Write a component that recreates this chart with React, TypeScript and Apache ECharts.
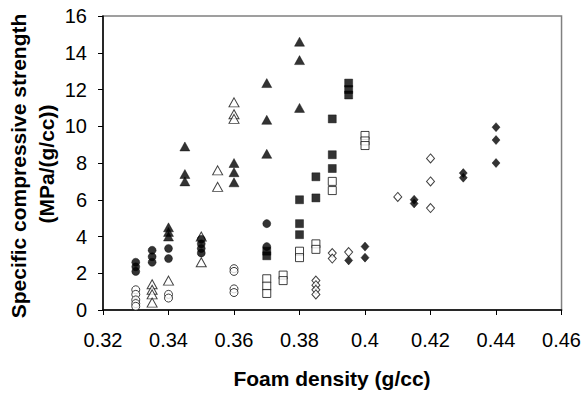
import React, { useEffect, useRef } from "react";
import * as echarts from "echarts";

// Foam density (g/cc) vs specific compressive strength (MPa/(g/cc))
const filledCircles: number[][] = [
  [0.33, 2.6], [0.33, 2.35], [0.33, 2.1],
  [0.335, 3.25], [0.335, 2.9], [0.335, 2.6],
  [0.34, 3.35], [0.34, 2.8],
  [0.35, 3.85], [0.35, 3.6], [0.35, 3.35], [0.35, 3.1],
  [0.37, 4.7], [0.37, 3.45],
];
const openCircles: number[][] = [
  [0.33, 1.1], [0.33, 0.85], [0.33, 0.55], [0.33, 0.35], [0.33, 0.2],
  [0.34, 0.85], [0.34, 0.65],
  [0.36, 2.25], [0.36, 2.1], [0.36, 1.15], [0.36, 0.95],
];
const filledTriangles: number[][] = [
  [0.34, 4.5], [0.34, 4.25], [0.34, 4.0],
  [0.345, 8.9], [0.345, 7.4], [0.345, 7.0],
  [0.36, 8.0], [0.36, 7.5], [0.36, 6.95],
  [0.37, 12.35], [0.37, 10.35], [0.37, 8.5],
  [0.38, 14.6], [0.38, 13.6], [0.38, 11.0],
];
const openTriangles: number[][] = [
  [0.335, 1.4], [0.335, 1.1], [0.335, 0.85], [0.335, 0.4],
  [0.34, 1.6],
  [0.35, 4.0], [0.35, 2.6],
  [0.355, 7.6], [0.355, 6.7],
  [0.36, 11.3], [0.36, 10.65], [0.36, 10.4],
];
const filledSquares: number[][] = [
  [0.37, 3.2], [0.37, 2.95],
  [0.38, 6.0], [0.38, 4.7], [0.38, 4.1],
  [0.385, 7.25], [0.385, 6.1],
  [0.39, 10.4], [0.39, 8.45], [0.39, 7.7],
  [0.395, 12.35], [0.395, 12.0], [0.395, 11.7],
];
const openSquares: number[][] = [
  [0.37, 1.7], [0.37, 1.3], [0.37, 0.9],
  [0.375, 1.9], [0.375, 1.6],
  [0.38, 3.2], [0.38, 2.85],
  [0.385, 3.6], [0.385, 3.3],
  [0.39, 7.0], [0.39, 6.5],
  [0.4, 9.5], [0.4, 9.2], [0.4, 8.95],
];
const openDiamonds: number[][] = [
  [0.385, 1.6], [0.385, 1.35], [0.385, 1.1], [0.385, 0.85],
  [0.39, 3.1], [0.39, 2.8],
  [0.395, 3.15],
  [0.41, 6.15],
  [0.42, 8.25], [0.42, 7.0], [0.42, 5.55],
];
const filledDiamonds: number[][] = [
  [0.395, 2.7],
  [0.4, 3.45], [0.4, 2.85],
  [0.415, 6.0], [0.415, 5.8],
  [0.43, 7.45], [0.43, 7.2],
  [0.44, 9.95], [0.44, 9.25], [0.44, 8.0],
];

const xTitle = "Foam density (g/cc)";
const yTitleLine1 = "Specific compressive strength";
const yTitleLine2 = "(MPa/(g/cc))";

const FONT = "'Liberation Sans', Arial, sans-serif";

function mk(name: string, data: number[][], symbol: string, size: any, filled: boolean, z: number) {
  return {
    name,
    type: "scatter",
    data,
    symbol,
    symbolSize: size,
    z,
    itemStyle: filled
      ? { color: "#000", borderColor: "#000", borderWidth: 0.5 }
      : { color: "#fff", borderColor: "#111", borderWidth: 1 },
  };
}

export default function App() {
  const ref = useRef<HTMLDivElement>(null);
  useEffect(() => {
    if (!ref.current) return;
    const chart = echarts.init(ref.current, undefined, { renderer: "svg" });
    chart.setOption({
      animation: false,
      backgroundColor: "#fff",
      grid: {
        left: 103,
        right: 22,
        top: 16,
        bottom: 84,
        show: true,
        borderColor: "#808080",
        borderWidth: 1.5,
        backgroundColor: "transparent",
      },
      xAxis: {
        type: "value",
        min: 0.32,
        max: 0.46,
        interval: 0.02,
        axisLine: { show: true, onZero: false, lineStyle: { color: "#000", width: 1.5 } },
        axisTick: { show: true, inside: false, length: 5, lineStyle: { color: "#000", width: 1 } },
        splitLine: { show: false },
        axisLabel: {
          margin: 20,
          color: "#000",
          fontFamily: FONT,
          fontSize: 20,
          formatter: (v: number) => String(+v.toFixed(2)),
        },
      },
      yAxis: {
        type: "value",
        min: 0,
        max: 16,
        interval: 2,
        axisLine: { show: true, lineStyle: { color: "#000", width: 1.5 } },
        axisTick: { show: true, inside: false, length: 5, lineStyle: { color: "#000", width: 1 } },
        splitLine: { show: false },
        axisLabel: {
          margin: 16,
          color: "#000",
          fontFamily: FONT,
          fontSize: 20,
        },
      },
      graphic: [
        {
          type: "text",
          x: 332,
          y: 378,
          style: {
            text: xTitle,
            fontFamily: FONT,
            fontWeight: "bold",
            fontSize: 21,
            fill: "#000",
            align: "center",
            verticalAlign: "middle",
          },
        },
        {
          type: "text",
          x: 18,
          y: 166,
          rotation: Math.PI / 2,
          style: {
            text: yTitleLine1,
            fontFamily: FONT,
            fontWeight: "bold",
            fontSize: 21,
            fill: "#000",
            align: "center",
            verticalAlign: "middle",
          },
        },
        {
          type: "text",
          x: 46,
          y: 164,
          rotation: Math.PI / 2,
          style: {
            text: yTitleLine2,
            fontFamily: FONT,
            fontWeight: "bold",
            fontSize: 21,
            fill: "#000",
            align: "center",
            verticalAlign: "middle",
          },
        },
      ],
      series: [
        mk("Open circles", openCircles, "circle", 8, false, 2),
        mk("Filled circles", filledCircles, "circle", 8, true, 3),
        mk("Open triangles", openTriangles, "triangle", [10, 9], false, 2),
        mk("Filled triangles", filledTriangles, "triangle", [10, 9], true, 3),
        mk("Open squares", openSquares, "rect", 8, false, 2),
        mk("Filled squares", filledSquares, "rect", 8, true, 3),
        mk("Open diamonds", openDiamonds, "diamond", [8, 9], false, 2),
        mk("Filled diamonds", filledDiamonds, "diamond", [8, 9], true, 3),
      ],
    });
    return () => chart.dispose();
  }, []);
  return (
    <div
      ref={ref}
      style={{ position: "fixed", left: 0, top: 0, width: 584, height: 394 }}
    />
  );
}
